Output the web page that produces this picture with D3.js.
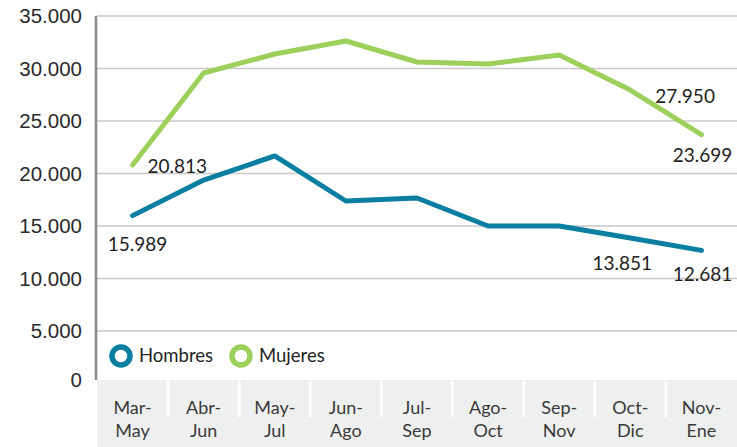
<!DOCTYPE html>
<html>
<head>
<meta charset="utf-8">
<script src="https://cdn.jsdelivr.net/npm/d3@7"></script>
<style>
  body { margin: 0; background: #fff; }
  svg { display: block; }
</style>
</head>
<body>
<svg id="chart" width="737" height="447"></svg>
<script>
// datos
const periodos = ['Mar-May', 'Abr-Jun', 'May-Jul', 'Jun-Ago', 'Jul-Sep', 'Ago-Oct', 'Sep-Nov', 'Oct-Dic', 'Nov-Ene'];
const hombres = [15989, 19380, 21670, 17380, 17670, 15000, 15000, 13851, 12681];
const mujeres = [20813, 29570, 31380, 32620, 30620, 30430, 31290, 27950, 23699];
const yTicks = [0, 5000, 10000, 15000, 20000, 25000, 30000, 35000];

// etiquetas visibles: [serie, indice, dx, dy, anchor]
const etiquetas = [
    ['m', 0, 15, 1, 'start'],
    ['h', 0, 5, 29, 'middle'],
    ['m', 7, 25, 6, 'start'],
    ['m', 8, 1, 21, 'middle'],
    ['h', 7, -8, 25, 'middle'],
    ['h', 8, 1, 24, 'middle'],
];

const azul = '#0a7fa1';
const verde = '#9dcf5b';
const fmt = v => d3.format(',')(v).replace(/,/g, '.');

const svg = d3.select('#chart');
const mLeft = 97, mRight = 737, mTop = 16, mBottom = 383.5;

const x = d3.scaleBand().domain(periodos).range([mLeft, mRight]);
const y = d3.scaleLinear().domain([0, 35000]).range([mBottom, mTop]);

// rejilla
svg.append('g')
    .selectAll('line')
    .data(yTicks.filter(d => d > 0))
    .enter()
    .append('line')
    .attr('x1', mLeft).attr('x2', mRight)
    .attr('y1', d => y(d)).attr('y2', d => y(d))
    .attr('stroke', '#c9c9c9')
    .attr('stroke-width', 1.5);

// banda de categorias
svg.append('rect')
    .attr('x', mLeft).attr('y', 380)
    .attr('width', mRight - mLeft).attr('height', 447 - 380)
    .attr('fill', '#eef0f0');

svg.append('g')
    .selectAll('line')
    .data(periodos.slice(1))
    .enter()
    .append('line')
    .attr('x1', d => x(d)).attr('x2', d => x(d))
    .attr('y1', 381).attr('y2', 417)
    .attr('stroke', '#fff')
    .attr('stroke-width', 3);

const xl = svg.append('g')
    .selectAll('text')
    .data(periodos)
    .enter()
    .append('text')
    .attr('x', d => x(d) + x.bandwidth() / 2)
    .attr('text-anchor', 'middle')
    .attr('font-family', 'Lato, sans-serif')
    .attr('font-size', 18)
    .attr('fill', '#3a3a3a');
xl.append('tspan').attr('y', 414).text(d => d.split('-')[0] + '-');
xl.append('tspan').attr('x', d => x(d) + x.bandwidth() / 2).attr('y', 437).text(d => d.split('-')[1]);

// eje y
svg.append('line')
    .attr('x1', mLeft - 1).attr('x2', mLeft - 1)
    .attr('y1', mTop).attr('y2', 380)
    .attr('stroke', '#8a8a8a')
    .attr('stroke-width', 2.5);

svg.append('g')
    .selectAll('text')
    .data(yTicks)
    .enter()
    .append('text')
    .attr('x', 82)
    .attr('y', d => Math.min(y(d), 380) + 7)
    .attr('text-anchor', 'end')
    .attr('font-family', '"Liberation Sans", Arial, sans-serif')
    .attr('font-size', 20.5)
    .attr('fill', '#2a2a2a')
    .text(d => fmt(d));

// lineas
const cx = d => x(d) + x.bandwidth() / 2;
const linea = d3.line()
    .x((d, i) => cx(periodos[i]))
    .y(d => y(d));

[[hombres, azul], [mujeres, verde]].forEach(([serie, color]) => {
    svg.append('path')
        .datum(serie)
        .attr('d', linea)
        .attr('fill', 'none')
        .attr('stroke', color)
        .attr('stroke-width', 5)
        .attr('stroke-linecap', 'round')
        .attr('stroke-linejoin', 'round');
});

// etiquetas de datos
svg.append('g')
    .selectAll('text')
    .data(etiquetas)
    .enter()
    .append('text')
    .attr('x', d => cx(periodos[d[1]]) + d[2])
    .attr('y', d => y((d[0] === 'h' ? hombres : mujeres)[d[1]]) + d[3])
    .attr('dy', '0.35em')
    .attr('text-anchor', d => d[4])
    .attr('font-family', 'Lato, sans-serif')
    .attr('font-size', 19)
    .attr('fill', '#222')
    .text(d => fmt((d[0] === 'h' ? hombres : mujeres)[d[1]]));

// leyenda
const leyenda = [['Hombres', azul, 121], ['Mujeres', verde, 241]];
const lg = svg.append('g')
    .selectAll('g')
    .data(leyenda)
    .enter()
    .append('g');
lg.append('circle')
    .attr('cx', d => d[2]).attr('cy', 356)
    .attr('r', 9)
    .attr('fill', '#fff')
    .attr('stroke', d => d[1])
    .attr('stroke-width', 5.5);
lg.append('text')
    .attr('x', d => d[2] + 18)
    .attr('y', 356)
    .attr('dy', '0.35em')
    .attr('font-family', 'Lato, sans-serif')
    .attr('font-size', 18.5)
    .attr('fill', '#222')
    .text(d => d[0]);
</script>
</body>
</html>
